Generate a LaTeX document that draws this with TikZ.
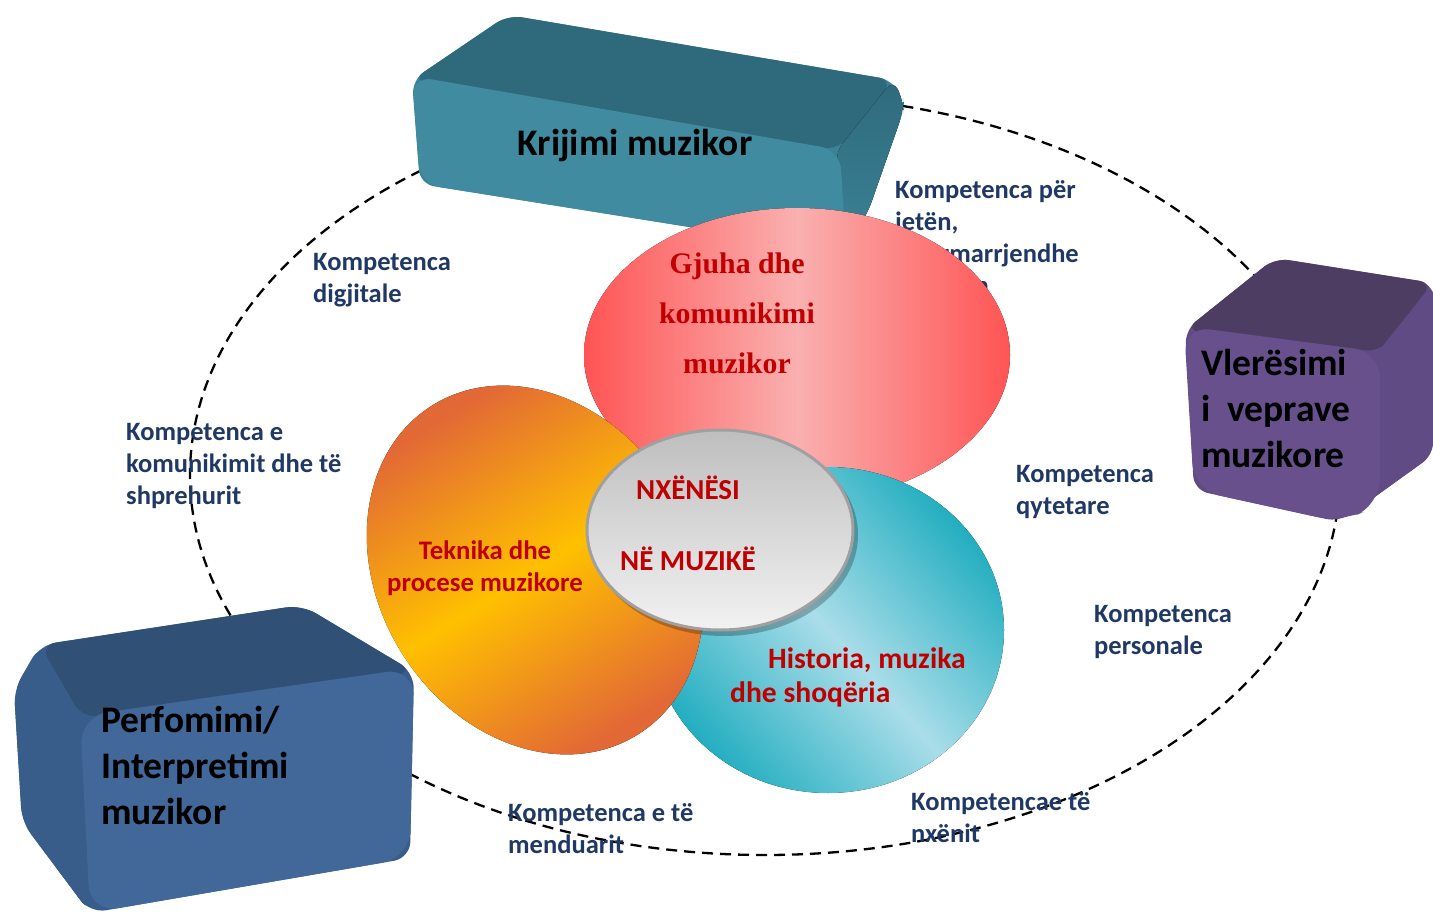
\documentclass[tikz,border=0pt]{standalone}
\usepackage{fontspec}
\setmainfont{Carlito}
\newfontfamily\serifb{Liberation Serif}
\usetikzlibrary{shapes.geometric,shadows}
\definecolor{navy}{RGB}{31,56,100}
\definecolor{dred}{RGB}{192,0,0}
\definecolor{kFront}{RGB}{64,139,160}
\definecolor{kTop}{RGB}{47,106,124}
\definecolor{kSide}{RGB}{58,130,150}
\definecolor{pFront}{RGB}{65,104,153}
\definecolor{pTop}{RGB}{48,80,118}
\definecolor{pSide}{RGB}{57,93,139}
\definecolor{vFront}{RGB}{103,80,140}
\definecolor{vTop}{RGB}{78,61,99}
\definecolor{vSide}{RGB}{96,75,132}
\definecolor{redEdge}{RGB}{255,84,84}
\definecolor{redMid}{RGB}{250,176,176}
\definecolor{orEdge}{RGB}{226,104,54}
\definecolor{orMid}{RGB}{255,192,0}
\definecolor{tlEdge}{RGB}{34,174,192}
\definecolor{tlMid}{RGB}{170,221,233}
\definecolor{gTop}{RGB}{190,190,190}
\definecolor{gBot}{RGB}{242,242,242}
\definecolor{gLine}{RGB}{160,160,160}
\tikzset{
  ring/.style={dash pattern=on 11pt off 7pt, line width=2.3pt, black},
  lbl/.style={font=\fontsize{26.5}{32}\selectfont\bfseries, text=navy, align=left, anchor=north west, inner sep=0pt},
  boxtitle/.style={font=\fontsize{37.5}{46}\selectfont\bfseries, text=black, inner sep=0pt},
  core/.style={font=\fontsize{26.8}{32}\selectfont\bfseries, text=dred, inner sep=0pt},
}
\begin{document}
\begin{tikzpicture}[x=1pt,y=-1pt]
\useasboundingbox (0,0) rectangle (1433,915);
\fill[white] (0,0) rectangle (1433,915);

% dashed ring
\draw[ring] (765,475) ellipse [x radius=575, y radius=380];

% box: Krijimi muzikor
\fill[kSide, rounded corners=14pt] (412,80) -- (508,15) -- (893,80) -- (903,100) -- (903,112) -- (868,212) -- (846,252) -- (420,184) -- cycle;
\fill[kTop, rounded corners=14pt] (412,80) -- (508,15) -- (893,80) -- (838,150) -- cycle;
\fill[top color=kTop, bottom color=kSide, rounded corners=10pt] (836,152) -- (893,80) -- (903,100) -- (903,112) -- (868,212) -- (845,248) -- cycle;
\fill[kFront, rounded corners=20pt] (412,76) -- (840,150) -- (846,252) -- (420,184) -- cycle;

% box: Perfomimi
\fill[pSide, rounded corners=16pt] (40,645) -- (302,605) -- (414,672) -- (410,858) -- (90,913) -- (22,822) -- (14,690) -- cycle;
\fill[pTop, rounded corners=16pt] (40,645) -- (302,605) -- (414,672) -- (82,718) -- cycle;
\fill[pSide, rounded corners=14pt] (40,645) -- (82,718) -- (90,913) -- (22,822) -- (14,690) -- cycle;
\fill[pFront, rounded corners=28pt] (80,716) -- (414,668) -- (410,858) -- (90,913) -- cycle;

% box: Vleresimi
\fill[vSide, rounded corners=14pt] (1185,330) -- (1275,258) -- (1433,283) -- (1433,455) -- (1340,522) -- (1194,490) -- cycle;
\fill[vTop, rounded corners=14pt] (1185,330) -- (1275,258) -- (1433,283) -- (1380,352) -- cycle;
\fill[vSide, rounded corners=12pt] (1378,352) -- (1433,283) -- (1433,455) -- (1340,522) -- cycle;
\fill[vFront, rounded corners=26pt] (1184,326) -- (1380,352) -- (1380,505) -- (1340,522) -- (1194,490) -- cycle;

% hidden label behind red blob
\node[lbl] (ljeten) at (895,180) {Kompetenca për\\jetën,\\sipërmarrjendhe\\mjedisin};

% coloured blobs
\fill[left color=redEdge, right color=redEdge, middle color=redMid] (797,355) ellipse [x radius=213, y radius=147];
\fill[left color=tlEdge, right color=tlEdge, middle color=tlMid, shading angle=-48] (828,630) ellipse [x radius=176, y radius=163];
\begin{scope}[shift={(535,570)}, rotate=-58]
\fill[left color=orEdge, right color=orEdge, middle color=orMid, shading angle=32] (0,0) ellipse [x radius=194, y radius=157];
\end{scope}
\fill[black, opacity=0.25] (724,535) ellipse [x radius=134, y radius=101];
\filldraw[top color=gTop, bottom color=gBot, draw=gLine, line width=3pt] (720,530) ellipse [x radius=133, y radius=100];

% box titles
\node[boxtitle, anchor=base] (tk) at (635,156) {Krijimi muzikor};
\node[boxtitle, anchor=north west, align=left] (tp) at (101,706) {Perfomimi/\\Interpretimi\\muzikor};
\node[boxtitle, anchor=north west, align=left] (tv) at (1201,349) {Vlerësimi\\i\ \ veprave\\muzikore};

% core texts
\node[font=\serifb\fontsize{29.8}{50}\selectfont\bfseries, text=dred, align=center, inner sep=0pt] (gj) at (737,313) {Gjuha dhe\\komunikimi\\muzikor};
\node[core, align=center, font=\fontsize{29}{71}\selectfont\bfseries] (nx) at (688,523) {NXËNËSI\\NË MUZIKË};
\node[core, align=center] (tek) at (485,568) {Teknika dhe\\procese muzikore};
\node[core, font=\fontsize{29.6}{34}\selectfont\bfseries, anchor=west] (h1) at (768,660) {Historia, muzika};
\node[core, font=\fontsize{29.6}{34}\selectfont\bfseries, anchor=west] (h2) at (730,694) {dhe shoqëria};

% competence labels
\node[lbl] (ldig) at (313,253) {Kompetenca\\digjitale};
\node[lbl] (lkom) at (126,423) {Kompetenca e\\komunikimit dhe të\\shprehurit};
\node[lbl] (lqyt) at (1016,465) {Kompetenca\\qytetare};
\node[lbl] (lper) at (1094,605) {Kompetenca\\personale};
\node[lbl] (lmen) at (508,803) {Kompetenca e të\\menduarit};
\node[lbl] (lnx) at (911,792) {Kompetencae të\\nxënit};
\end{tikzpicture}
\end{document}
